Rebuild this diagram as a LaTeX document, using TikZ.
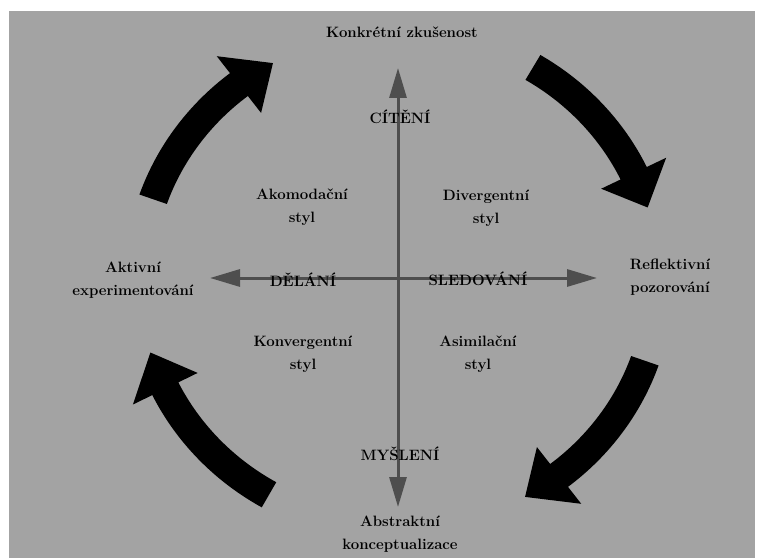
\documentclass[tikz,border=0pt]{standalone}
\usetikzlibrary{arrows.meta}
\definecolor{paper}{RGB}{163,163,163}
\definecolor{axisgray}{RGB}{78,78,78}
\newcommand\kolbarrow[3]{%
  \fill[black] (#1:274.5pt and 262.5pt)
    arc[start angle=#1,end angle=#2,x radius=274.5pt,y radius=262.5pt]
    -- (#2:296pt and 284pt) -- (#3:260pt and 248pt) -- (#2:224pt and 212pt)
    -- (#2:245.5pt and 233.5pt)
    arc[start angle=#2,end angle=#1,x radius=245.5pt,y radius=233.5pt] -- cycle;}
\begin{document}
\begin{tikzpicture}[x=1pt,y=1pt,
  lbl/.style={font=\fontsize{15}{23}\selectfont\bfseries,align=center,inner sep=0pt,text=black},
  axisline/.style={draw=axisgray,line width=3pt,-{Triangle[length=30pt,width=17pt]}}]
\useasboundingbox (0,0) rectangle (759,558);
\fill[white] (0,0) rectangle (759,558);
\fill[paper] (9,0) rectangle (755,547);
% axes
\coordinate (O) at (398,280);
\coordinate (axT) at (398,490);
\coordinate (axB) at (398,51);
\coordinate (axL) at (210,280);
\coordinate (axR) at (597,280);
\draw[axisline] (O) -- (axT);
\draw[axisline] (O) -- (axB);
\draw[axisline] (O) -- (axL);
\draw[axisline] (O) -- (axR);
% cycle arrows
\begin{scope}[shift={(399,278)}]
\kolbarrow{161}{128}{119}
\kolbarrow{59}{25.5}{17}
\kolbarrow{-19}{-52}{-61}
\kolbarrow{240}{206}{197}
\end{scope}
% labels
\node[lbl] (ce) at (402,526) {Konkrétní zkušenost};
\node[lbl] (cit) at (400,441) {CÍTĚNÍ};
\node[lbl] (ako) at (302,350.5) {Akomodační\\styl};
\node[lbl] (div) at (486,350) {Divergentní\\styl};
\node[lbl] (ae) at (133,277.5) {Aktivní\\experimentování};
\node[lbl] (del) at (303,278) {DĚLÁNÍ};
\node[lbl] (sle) at (478,279) {SLEDOVÁNÍ};
\node[lbl] (ro) at (670,280.5) {Reflektivní\\pozorování};
\node[lbl] (kon) at (303,204) {Konvergentní\\styl};
\node[lbl] (asi) at (478,204) {Asimilační\\styl};
\node[lbl] (mys) at (400,104) {MYŠLENÍ};
\node[lbl] (ac) at (400,24) {Abstraktní\\konceptualizace};
\end{tikzpicture}
\end{document}
